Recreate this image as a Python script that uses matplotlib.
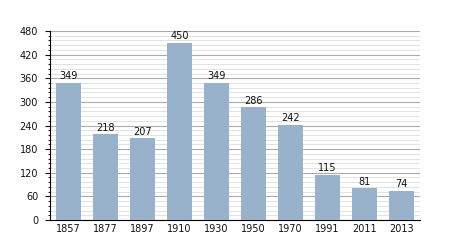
import matplotlib
matplotlib.use("Agg")
import matplotlib.pyplot as plt
from matplotlib.ticker import MultipleLocator

years = ["1857", "1877", "1897", "1910", "1930", "1950", "1970", "1991", "2011", "2013"]
values = [349, 218, 207, 450, 349, 286, 242, 115, 81, 74]
yticks = [0, 60, 120, 180, 240, 300, 360, 420, 480]

fig = plt.figure(figsize=(4.5, 2.5), dpi=100)
ax = fig.add_axes([0.111, 0.12, 0.822, 0.756])
x = list(range(len(years)))
bars = ax.bar(x, values, width=0.68, color="#99b2cc", zorder=3)
for xi, v in zip(x, values):
    ax.text(xi, v + 4, str(v), ha="center", va="bottom", fontsize=7, color="#111111", zorder=4)
ax.set_xlim(-0.5, len(years) - 0.5)
ax.set_ylim(0, 480)
ax.set_yticks(yticks)
ax.yaxis.set_minor_locator(MultipleLocator(12))
ax.set_xticks(x)
ax.set_xticklabels(years)
ax.tick_params(axis="both", labelsize=7, colors="#111111")
ax.tick_params(axis="x", length=0, pad=3)
ax.tick_params(axis="y", which="major", length=3.5, width=0.8, direction="out", pad=5)
ax.tick_params(axis="y", which="minor", length=1.5, width=0.6, direction="out")
ax.grid(axis="y", which="major", color="#aaaaaa", linewidth=0.8, zorder=0)
ax.grid(axis="y", which="minor", color="#dddddd", linewidth=0.6, zorder=0)
for s in ["top", "right"]:
    ax.spines[s].set_visible(False)
ax.spines["left"].set_color("black")
ax.spines["bottom"].set_color("black")
fig.savefig("out.png", dpi=100)
